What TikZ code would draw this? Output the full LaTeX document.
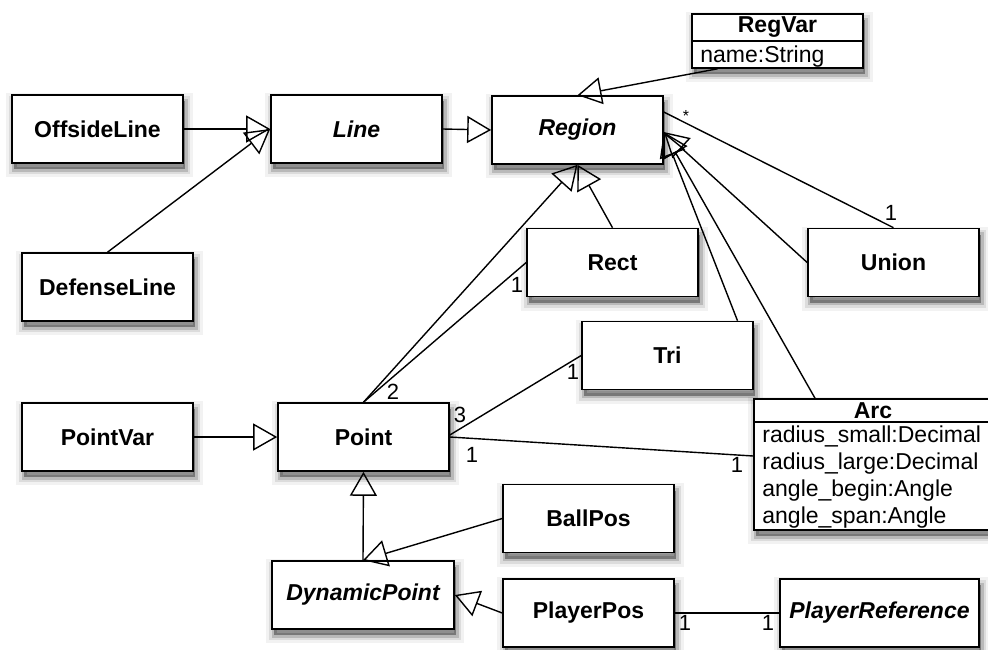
\documentclass[tikz,border=0pt]{standalone}
\usepackage{fontspec}
\setmainfont{Liberation Sans}
\usetikzlibrary{arrows.meta}
\begin{document}
\begin{tikzpicture}[x=1pt,y=-1pt,
  softshadow/.style={
    preaction={draw=black,line width=16pt,opacity=0.05,transform canvas={xshift=2pt,yshift=-6pt}},
    preaction={draw=black,line width=10pt,opacity=0.09,transform canvas={xshift=2pt,yshift=-6pt}},
    preaction={draw=black,line width=5pt,opacity=0.16,transform canvas={xshift=2pt,yshift=-6pt}},
    preaction={fill=black,opacity=0.35,transform canvas={xshift=2pt,yshift=-6pt}}},
  cls/.style={draw=black,line width=1.6pt,fill=white,softshadow,minimum width=171pt,minimum height=68pt,inner sep=0pt,font=\fontsize{23}{27}\selectfont\bfseries},
  abstractcls/.style={cls,font=\fontsize{23}{27}\selectfont\bfseries\itshape},
  classname/.style={inner sep=0pt,font=\fontsize{23}{27}\selectfont\bfseries},
  attrs/.style={inner sep=0pt,align=left,font=\fontsize{23}{27}\selectfont},
  gen/.style={line width=1.4pt,-{Triangle[open,length=24pt,width=27pt,line width=1.4pt]}},
  assoc/.style={line width=1.4pt},
  mult/.style={inner sep=0pt,font=\fontsize{22}{26}\selectfont},
  star/.style={inner sep=0pt,font=\fontsize{16}{18}\selectfont}
]
\useasboundingbox (0,0) rectangle (988,649);

% plain classes
\node[cls] (offside) at (97.5,129) {OffsideLine};
\node[cls] (defense) at (107.5,287) {DefenseLine};
\node[cls] (pointvar) at (107.5,437) {PointVar};
\node[cls] (point) at (363.5,437) {Point};
\node[cls] (rect) at (612.5,262.5) {Rect};
\node[cls] (union) at (893.5,262.5) {Union};
\node[cls] (tri) at (667.5,355.5) {Tri};
\node[cls] (ballpos) at (588.5,518.5) {BallPos};
\node[cls] (playerpos) at (588.5,613) {PlayerPos};

% abstract classes
\node[abstractcls] (line) at (356.5,129) {Line};
\node[abstractcls] (region) at (577.5,130) {Region};
\node[abstractcls,minimum width=182pt] (dynpoint) at (363,595) {DynamicPoint};
\node[abstractcls,minimum width=199pt] (playerref) at (879.5,613) {PlayerReference};

% RegVar with one attribute
\node[cls,minimum height=54pt] (regvar) at (777.5,41) {};
\draw[line width=1.6pt] ([yshift=-28pt]regvar.north west) -- ([yshift=-28pt]regvar.north east);
\node[classname] (regvarname) at ([yshift=-14pt]regvar.north) {RegVar};
\node[attrs,anchor=base west] (regvarattr) at ([xshift=9pt,yshift=-49pt]regvar.north west) {name:String};

% Arc with four attributes (runs past the right margin)
\node[cls,minimum width=238pt,minimum height=131pt] (arc) at (873,464.5) {};
\draw[line width=1.6pt] ([yshift=-24pt]arc.north west) -- ([yshift=-24pt]arc.north east);
\node[classname] (arcname) at ([yshift=-12pt]arc.north) {Arc};
\node[attrs,anchor=north west] (arcattr) at ([xshift=9pt,yshift=-27.5pt]arc.north west)
  {radius\_small:Decimal\\radius\_large:Decimal\\angle\_begin:Angle\\angle\_span:Angle};

% generalizations
\draw[gen] (offside.east) -- (line.west);
\draw[gen] (defense.north) -- (line.west);
\draw[gen] (line.east) -- (region.west);
\draw[gen] ([xshift=-60pt]regvar.south) -- (region.north);
\draw[gen] (rect.north) -- (region.south);
\draw[gen] (point.north) -- (region.south);
\draw[gen] (union.west) -- ([yshift=-2pt]region.east);
\draw[gen] ([xshift=70pt]tri.north) -- ([yshift=-2pt]region.east);
\draw[gen] ([xshift=-58pt]arc.north) -- ([yshift=-2pt]region.east);
\draw[gen] (pointvar.east) -- (point.west);
\draw[gen] (dynpoint.north) -- (point.south);
\draw[gen] (ballpos.west) -- (dynpoint.north);
\draw[gen] (playerpos.west) -- (dynpoint.east);

% associations
\draw[assoc] ([yshift=18pt]region.east) -- (union.north);
\draw[assoc] (point.north) -- (rect.west);
\draw[assoc] ([yshift=2pt]point.east) -- (tri.west);
\draw[assoc] (point.east) -- ([yshift=8.5pt]arc.west);
\draw[assoc] (playerpos.east) -- (playerref.west);

% multiplicities
\node[star] (mstar) at (686,116) {*};
\node[mult] (munion) at (891,213) {1};
\node[mult] (mpointa) at (393,392) {2};
\node[mult] (mrect) at (517,285) {1};
\node[mult] (mpointb) at (460,415) {3};
\node[mult] (mtri) at (573,372) {1};
\node[mult] (mpointc) at (472,455) {1};
\node[mult] (marc) at (737,465) {1};
\node[mult] (mplayerpos) at (685,623) {1};
\node[mult] (mplayerref) at (768,623) {1};
\end{tikzpicture}
\end{document}
